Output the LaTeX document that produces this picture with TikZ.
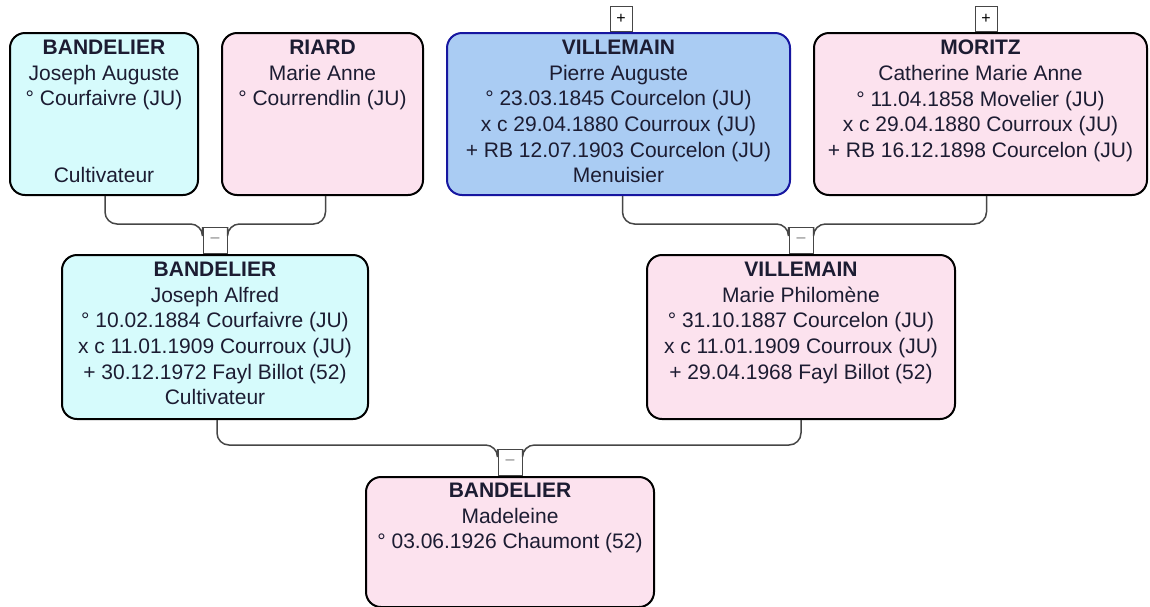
\documentclass[tikz,border=0pt]{standalone}
\usepackage{fontspec}
\setmainfont{Liberation Sans}
\definecolor{cyanf}{RGB}{214,251,252}
\definecolor{pinkf}{RGB}{252,226,238}
\definecolor{bluef}{RGB}{170,204,243}
\definecolor{blueb}{RGB}{22,22,160}
\definecolor{txtc}{RGB}{28,28,50}
\definecolor{connc}{RGB}{70,70,70}
\tikzset{
  person/.style={draw=black, line width=2pt, rounded corners=15pt, inner sep=0pt},
  info/.style={inner sep=0pt, align=center, text=txtc, font=\fontsize{21}{25.6}\selectfont},
  tog/.style={draw=connc, fill=white, line width=1pt, minimum width=24pt, minimum height=26pt, inner sep=0pt, font=\fontsize{16}{16}\selectfont},
  connector/.style={draw=connc, line width=1.5pt, rounded corners=12pt},
}
\begin{document}
\begin{tikzpicture}[x=1pt,y=-1pt]
\useasboundingbox (0,0) rectangle (1150,606);
\fill[white] (0,0) rectangle (1150,606);

% person boxes
\node[person, fill=cyanf, minimum width=188pt, minimum height=162pt] (b1) at (104,114) {};
\node[person, fill=pinkf, minimum width=201pt, minimum height=162pt] (b2) at (322.5,114) {};
\node[person, fill=bluef, draw=blueb, minimum width=343pt, minimum height=162pt] (b3) at (618.5,114) {};
\node[person, fill=pinkf, minimum width=333pt, minimum height=162pt] (b4) at (980.5,114) {};
\node[person, fill=cyanf, minimum width=306pt, minimum height=164pt] (b5) at (215,337) {};
\node[person, fill=pinkf, minimum width=308pt, minimum height=164pt] (b6) at (801,337) {};
\node[person, fill=pinkf, minimum width=288pt, minimum height=130pt] (b7) at (510,542) {};

% texts
\node[info, anchor=north] (t1) at ([yshift=-8pt]b1.north) {\textbf{BANDELIER}\\Joseph Auguste\\° Courfaivre (JU)\\[51.2pt]Cultivateur};
\node[info, anchor=north] (t2) at ([yshift=-8pt]b2.north) {\textbf{RIARD}\\Marie Anne\\° Courrendlin (JU)};
\node[info, anchor=north] (t3) at ([yshift=-8pt]b3.north) {\textbf{VILLEMAIN}\\Pierre Auguste\\° 23.03.1845 Courcelon (JU)\\x c 29.04.1880 Courroux (JU)\\+ RB 12.07.1903 Courcelon (JU)\\Menuisier};
\node[info, anchor=north] (t4) at ([yshift=-8pt]b4.north) {\textbf{MORITZ}\\Catherine Marie Anne\\° 11.04.1858 Movelier (JU)\\x c 29.04.1880 Courroux (JU)\\+ RB 16.12.1898 Courcelon (JU)};
\node[info, anchor=north] (t5) at ([yshift=-8pt]b5.north) {\textbf{BANDELIER}\\Joseph Alfred\\° 10.02.1884 Courfaivre (JU)\\x c 11.01.1909 Courroux (JU)\\+ 30.12.1972 Fayl Billot (52)\\Cultivateur};
\node[info, anchor=north] (t6) at ([yshift=-8pt]b6.north) {\textbf{VILLEMAIN}\\Marie Philomène\\° 31.10.1887 Courcelon (JU)\\x c 11.01.1909 Courroux (JU)\\+ 29.04.1968 Fayl Billot (52)};
\node[info, anchor=north] (t7) at ([yshift=-7pt]b7.north) {\textbf{BANDELIER}\\Madeleine\\° 03.06.1926 Chaumont (52)};

% expand / collapse toggles
\node[tog, anchor=south, minimum width=22pt, minimum height=25pt] (p3) at ([xshift=2.5pt]b3.north) {+};
\node[tog, anchor=south, minimum width=22pt, minimum height=25pt] (p4) at ([xshift=5.5pt]b4.north) {+};
\node[tog, anchor=south] (m1) at (b5.north) {\textcolor{gray}{\textendash}};
\node[tog, anchor=south] (m2) at (b6.north) {\textcolor{gray}{\textendash}};
\node[tog, anchor=south] (m3) at (b7.north) {\textcolor{gray}{\textendash}};

% family connectors
\draw[connector] ([xshift=1pt]b1.south) |- ([yshift=3pt]m1.north west) -- (m1.north west);
\draw[connector] ([xshift=3pt]b2.south) |- ([yshift=3pt]m1.north east) -- (m1.north east);
\draw[connector] ([xshift=4pt]b3.south) |- ([yshift=3pt]m2.north west) -- (m2.north west);
\draw[connector] ([xshift=6pt]b4.south) |- ([yshift=3pt]m2.north east) -- (m2.north east);
\draw[connector] ([xshift=2pt]b5.south) |- ([yshift=4pt]m3.north west) -- (m3.north west);
\draw[connector] (b6.south) |- ([yshift=4pt]m3.north east) -- (m3.north east);
\end{tikzpicture}
\end{document}
